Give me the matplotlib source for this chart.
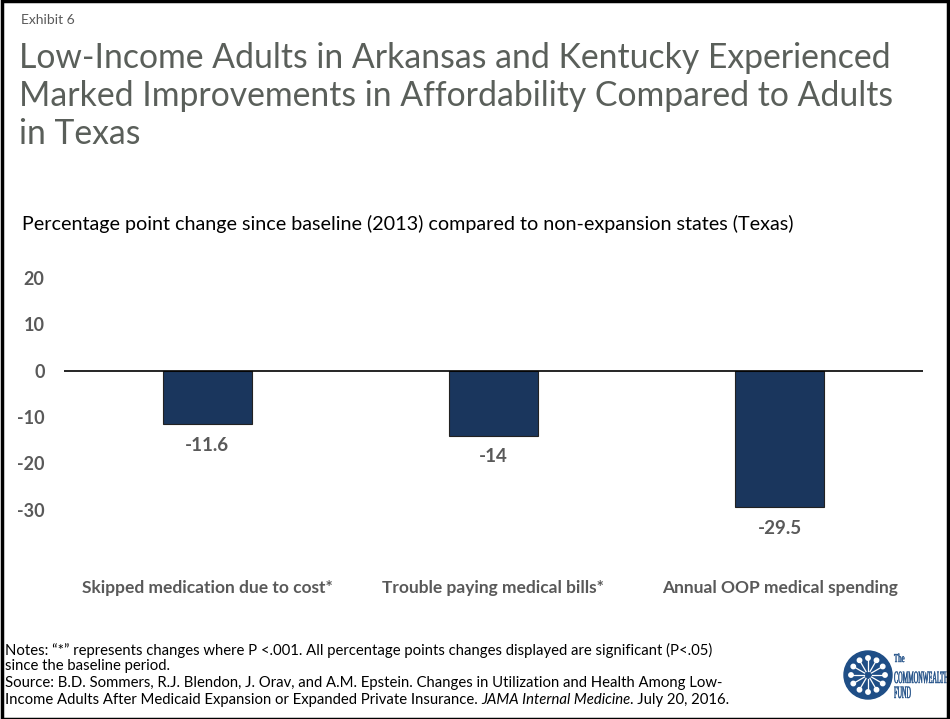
import matplotlib.pyplot as plt
from matplotlib.patches import Circle, Rectangle, PathPatch
from matplotlib.textpath import TextPath
from matplotlib.font_manager import FontProperties
from matplotlib.transforms import Affine2D
import numpy as np

categories = ["Skipped medication due to cost*", "Trouble paying medical bills*",
              "Annual OOP medical spending"]
values = [-11.6, -14, -29.5]
value_labels = ["-11.6", "-14", "-29.5"]
yticks = [20, 10, 0, -10, -20, -30]

gray = "#595959"
navy = "#1a365d"
logo_blue = "#1f4e86"
plt.rcParams['font.family'] = ['Lato', 'DejaVu Sans']

fig = plt.figure(figsize=(9.5, 7.19), dpi=100)

# frame round the slide
fig.patches.append(Rectangle((0.002, 0.0), 0.996, 0.998, transform=fig.transFigure,
                             fill=False, edgecolor="black", linewidth=2.5))

fig.text(0.022, 0.972, "Exhibit 6", fontsize=10, color=gray, va="center")
fig.text(0.02, 0.942,
         "Low-Income Adults in Arkansas and Kentucky Experienced\n"
         "Marked Improvements in Affordability Compared to Adults\n"
         "in Texas", fontsize=24.3, color="#5a5f5a", va="top",
         linespacing=1.23)
fig.text(0.023, 0.688,
         "Percentage point change since baseline (2013) compared to non-expansion states (Texas)",
         fontsize=14.2, color="black", va="center")

ax = fig.add_axes([0.0674, 0.2267, 0.904, 0.3867])
x = np.arange(len(categories))
bars = ax.bar(x, values, width=0.31, color=navy, edgecolor="#222222", linewidth=0.8)
ax.axhline(0, color="black", linewidth=1.2)
ax.set_xlim(-0.5, 2.5)
ax.set_ylim(-40, 20)
ax.set_yticks(yticks)
ax.set_yticklabels([str(t) for t in yticks], fontweight="bold", fontsize=13, color=gray)
ax.set_xticks(x)
ax.set_xticklabels(categories, fontweight="bold", fontsize=12.5, color=gray)
ax.tick_params(axis="y", length=0, pad=14)
ax.tick_params(axis="x", length=0, pad=17)
for s in ax.spines.values():
    s.set_visible(False)
for xi, v, lab in zip(x, values, value_labels):
    ax.annotate(lab, (xi, v), xytext=(0, -21), textcoords="offset pixels",
                ha="center", va="center", fontweight="bold", fontsize=13.5, color=gray)

fs = 10.7
fig.text(0.005, 0.085,
         "Notes: \u201c*\u201d represents changes where P <.001. All percentage points changes displayed are significant (P<.05)\n"
         "since the baseline period.", fontsize=fs, color="black", va="center", linespacing=1.15)
fig.text(0.005, 0.050,
         "Source: B.D. Sommers, R.J. Blendon, J. Orav, and A.M. Epstein. Changes in Utilization and Health Among Low-",
         fontsize=fs, color="black", va="center")
t0 = fig.text(0.005, 0.026,
              "Income Adults After Medicaid Expansion or Expanded Private Insurance. ",
              fontsize=fs, color="black", va="center")
fig.canvas.draw()
r = fig.canvas.get_renderer()
bb = t0.get_window_extent(r)
t2 = fig.text(bb.x1 / fig.bbox.width, 0.026, "JAMA Internal Medicine", fontsize=fs,
              style="italic", color="black", va="center")
bb2 = t2.get_window_extent(r)
fig.text(bb2.x1 / fig.bbox.width, 0.026, ". July 20, 2016.", fontsize=fs,
         color="black", va="center")

# logo, drawn on an overlay whose data units are figure pixels
lax = fig.add_axes([0, 0, 1, 1], zorder=-1)
lax.set_xlim(0, 950)
lax.set_ylim(0, 719)
lax.axis("off")
cx, cy = 868, 719 - 675
lax.add_patch(Circle((cx, cy), 24, color=logo_blue))
for a in np.linspace(0, 2 * np.pi, 12, endpoint=False):
    lax.plot([cx + 4 * np.cos(a), cx + 17 * np.cos(a)],
             [cy + 4 * np.sin(a), cy + 17 * np.sin(a)], color="white", linewidth=0.9)
    lax.add_patch(Circle((cx + 17 * np.cos(a), cy + 17 * np.sin(a)), 2.2, color="white"))

serif = FontProperties(family=["Liberation Serif", "DejaVu Serif"])


def squeezed(s, x0, base, cap, sx=None, width=None):
    tp = TextPath((0, 0), s, size=1, prop=serif)
    sy = cap / 0.66
    if sx is None:
        sx = width / tp.get_extents().width
    path = Affine2D().scale(sx, sy).translate(x0, 719 - base).transform_path(tp)
    lax.add_patch(PathPatch(path, facecolor=logo_blue, edgecolor=logo_blue, lw=0.3))
    return sx


sx = squeezed("COMMONWEALTH", 894, 683, 11.5, width=54)
squeezed("FUND", 894, 698, 11.5, sx=sx)
squeezed("The", 894, 662, 8, sx=sx * 1.1)

fig.savefig("out.png", dpi=100)
